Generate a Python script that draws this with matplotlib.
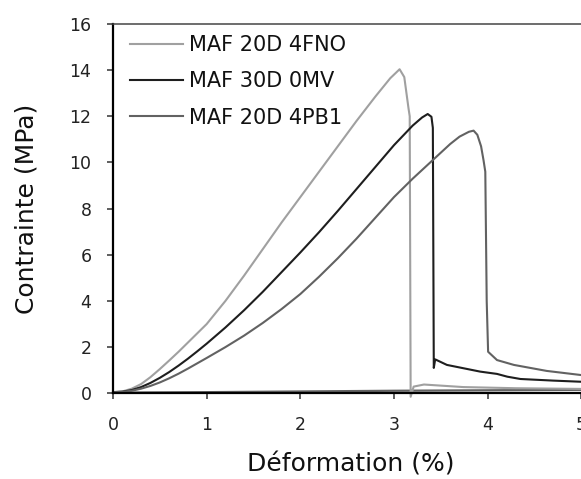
import numpy as np
import matplotlib
matplotlib.use("Agg")
import matplotlib.pyplot as plt

# Courbes contrainte-deformation
################################################################################
x_4fno = [0, 0.1, 0.2, 0.3, 0.4, 0.5, 0.6, 0.7, 0.8, 0.9, 1.0, 1.2, 1.4, 1.6,
          1.8, 2.0, 2.2, 2.4, 2.6, 2.8, 2.96, 3.06, 3.11, 3.155, 3.168, 3.178,
          3.21, 3.32, 3.74, 4.3, 5.0]
y_4fno = [0.05, 0.08, 0.2, 0.4, 0.7, 1.05, 1.42, 1.8, 2.2, 2.6, 3.0, 4.0, 5.1,
          6.25, 7.4, 8.5, 9.6, 10.7, 11.8, 12.85, 13.65, 14.04, 13.7, 12.35,
          12.0, -0.15, 0.29, 0.38, 0.27, 0.22, 0.19]

x_0mv = [0, 0.1, 0.2, 0.3, 0.4, 0.5, 0.6, 0.7, 0.8, 0.9, 1.0, 1.2, 1.4, 1.6,
         1.8, 2.0, 2.2, 2.4, 2.6, 2.8, 3.0, 3.2, 3.3, 3.36, 3.40, 3.415, 3.425,
         3.44, 3.565, 3.92, 4.10, 4.21, 4.35, 4.7, 5.0]
y_0mv = [0.05, 0.07, 0.14, 0.27, 0.45, 0.67, 0.92, 1.2, 1.5, 1.82, 2.15, 2.85,
         3.6, 4.4, 5.25, 6.1, 6.98, 7.9, 8.85, 9.8, 10.75, 11.6, 11.95, 12.1,
         11.98, 11.5, 1.1, 1.47, 1.23, 0.94, 0.84, 0.72, 0.62, 0.55, 0.50]

x_4pb1 = [0, 0.1, 0.2, 0.3, 0.4, 0.5, 0.6, 0.7, 0.8, 0.9, 1.0, 1.2, 1.4, 1.6,
          1.8, 2.0, 2.2, 2.4, 2.6, 2.8, 3.0, 3.2, 3.4, 3.6, 3.7, 3.8, 3.85,
          3.89, 3.93, 3.956, 3.975, 3.99, 4.005, 4.10, 4.28, 4.63, 5.0]
y_4pb1 = [0.05, 0.06, 0.11, 0.2, 0.32, 0.47, 0.65, 0.85, 1.07, 1.3, 1.53, 2.0,
          2.5, 3.05, 3.65, 4.3, 5.05, 5.85, 6.7, 7.6, 8.5, 9.3, 10.05, 10.8,
          11.12, 11.33, 11.38, 11.2, 10.7, 10.1, 9.6, 4.0, 1.8, 1.44, 1.23,
          0.97, 0.79]

# retour a zero (ligne quasi horizontale en bas du graphique)
x_retour = [0, 1, 2, 3, 4, 5]
y_retour = [0.03, 0.05, 0.08, 0.11, 0.13, 0.15]

labels = ["MAF 20D 4FNO", "MAF 30D 0MV", "MAF 20D 4PB1"]
colors = ["#a0a0a0", "#1e1e1e", "#626262"]
################################################################################

fig = plt.figure(figsize=(5.81, 4.79), dpi=100)
ax = fig.add_axes([113/581, 1-393.3/479, 468.3/581, (393.3-24)/479])

ax.plot(x_retour, y_retour, color=colors[2], lw=1.6, solid_capstyle="butt")
ax.plot(x_4fno, y_4fno, color=colors[0], lw=1.5, label=labels[0], clip_on=False)
ax.plot(x_0mv, y_0mv, color=colors[1], lw=1.5, label=labels[1])
ax.plot(x_4pb1, y_4pb1, color=colors[2], lw=1.5, label=labels[2])

ax.set_xlim(0, 5)
ax.set_ylim(0, 16)
ax.set_xticks(range(0, 6))
ax.set_yticks(range(0, 17, 2))

for side in ["left", "bottom"]:
	ax.spines[side].set_linewidth(1.6)
	ax.spines[side].set_color("black")
ax.spines["top"].set_linewidth(1.1)
ax.spines["top"].set_color("#454545")
ax.spines["right"].set_visible(False)

ax.tick_params(axis="both", direction="out", length=4.5, width=1.1,
			   labelsize=12.5, labelcolor="#222222", color="#333333")
ax.tick_params(axis="y", pad=11)
ax.tick_params(axis="x", pad=12)

leg = ax.legend(loc="upper left", bbox_to_anchor=(0.037, 0.97), frameon=False,
				fontsize=15, handlelength=2.55, handletextpad=0.25,
				labelspacing=0.78, borderpad=0, borderaxespad=0)
for t in leg.get_texts():
	t.set_color("#111111")

fig.text(350.8/581, 1-471.7/479, "Déformation (%)", ha="center",
		 va="baseline", fontsize=18, color="#111111")
fig.text(26.5/581, 1-208.7/479, "Contrainte (MPa)", ha="center", va="center",
		 rotation=90, fontsize=18, color="#111111")

plt.savefig("out.png", dpi=100)
